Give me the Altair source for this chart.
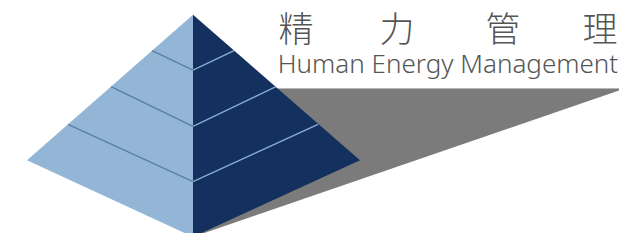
import altair as alt
import pandas as pd

# Logo geometry (image units, y grows downward)
shadow_x = [193, 625]
shadow_top = [91, 91]
shadow_bot = [244, 91]

left_x = [27, 193]
left_top = [165, 15]
left_bot = [165, 244]

right_x = [193, 360]
right_top = [15, 165]
right_bot = [244, 165]

# layer lines: start (x,y) -> end (x,y)
lline_x = [152, 111, 68]
lline_y = [52, 89, 128]
cline_y = [72, 130, 187]
rline_x = [234, 276, 318]
rline_y = [52, 89, 128]
center_x = 193

zh_chars = ["精", "力", "管", "理"]
zh_x = [296, 397, 503, 600]
zh_y = [32, 32, 32, 32]
en_text = ["Human Energy Management"]
en_x = [448]
en_y = [75]

W, H = 611, 225
xs = alt.Scale(domain=[8, 619], range=[0, W], nice=False, zero=False)
ys = alt.Scale(domain=[8, 240], range=[0, H], nice=False, zero=False)


def area(xv, top, bot, color):
    df = pd.DataFrame({"x": xv, "t": top, "b": bot})
    return alt.Chart(df).mark_area(color=color, opacity=1, clip=True).encode(
        x=alt.X("x:Q", scale=xs, axis=None),
        y=alt.Y("t:Q", scale=ys, axis=None),
        y2="b:Q",
    )


shadow = area(shadow_x, shadow_top, shadow_bot, "#7b7b7b")
left = area(left_x, left_top, left_bot, "#93b6d6")
right = area(right_x, right_top, right_bot, "#14305e")

ldf = pd.DataFrame({"x": lline_x, "y": lline_y, "x2": [center_x] * 3, "y2": cline_y})
rdf = pd.DataFrame({"x": [center_x] * 3, "y": cline_y, "x2": rline_x, "y2": rline_y})

llines = alt.Chart(ldf).mark_rule(color="#5a7ea6", strokeWidth=1.3).encode(
    x=alt.X("x:Q", scale=xs, axis=None), y=alt.Y("y:Q", scale=ys, axis=None),
    x2="x2:Q", y2="y2:Q")
rlines = alt.Chart(rdf).mark_rule(color="#8aaed2", strokeWidth=1.3).encode(
    x=alt.X("x:Q", scale=xs, axis=None), y=alt.Y("y:Q", scale=ys, axis=None),
    x2="x2:Q", y2="y2:Q")

shadow_edge = alt.Chart(pd.DataFrame({"x": [279], "x2": [619], "y": [91]})).mark_rule(
    color="#b8b8b8", strokeWidth=1).encode(
    x=alt.X("x:Q", scale=xs, axis=None), x2="x2:Q", y=alt.Y("y:Q", scale=ys, axis=None))

zh = alt.Chart(pd.DataFrame({"t": zh_chars, "x": zh_x, "y": zh_y})).mark_text(
    font="Noto Sans CJK SC", fontSize=35, fontWeight=300, color="#555555",
    baseline="middle", align="center").encode(
    x=alt.X("x:Q", scale=xs, axis=None), y=alt.Y("y:Q", scale=ys, axis=None), text="t:N")

en = alt.Chart(pd.DataFrame({"t": en_text, "x": en_x, "y": en_y})).mark_text(
    font="Noto Sans", fontSize=26, fontWeight=300, color="#555555",
    baseline="alphabetic", align="center").encode(
    x=alt.X("x:Q", scale=xs, axis=None), y=alt.Y("y:Q", scale=ys, axis=None), text="t:N")

chart = alt.layer(shadow, shadow_edge, left, right, llines, rlines, zh, en).properties(
    width=W, height=H, padding=0, autosize=alt.AutoSizeParams(type="none"),
    background="white",
).configure_view(stroke=None)

chart.save("out.html", embed_options={"renderer": "svg", "actions": False})
